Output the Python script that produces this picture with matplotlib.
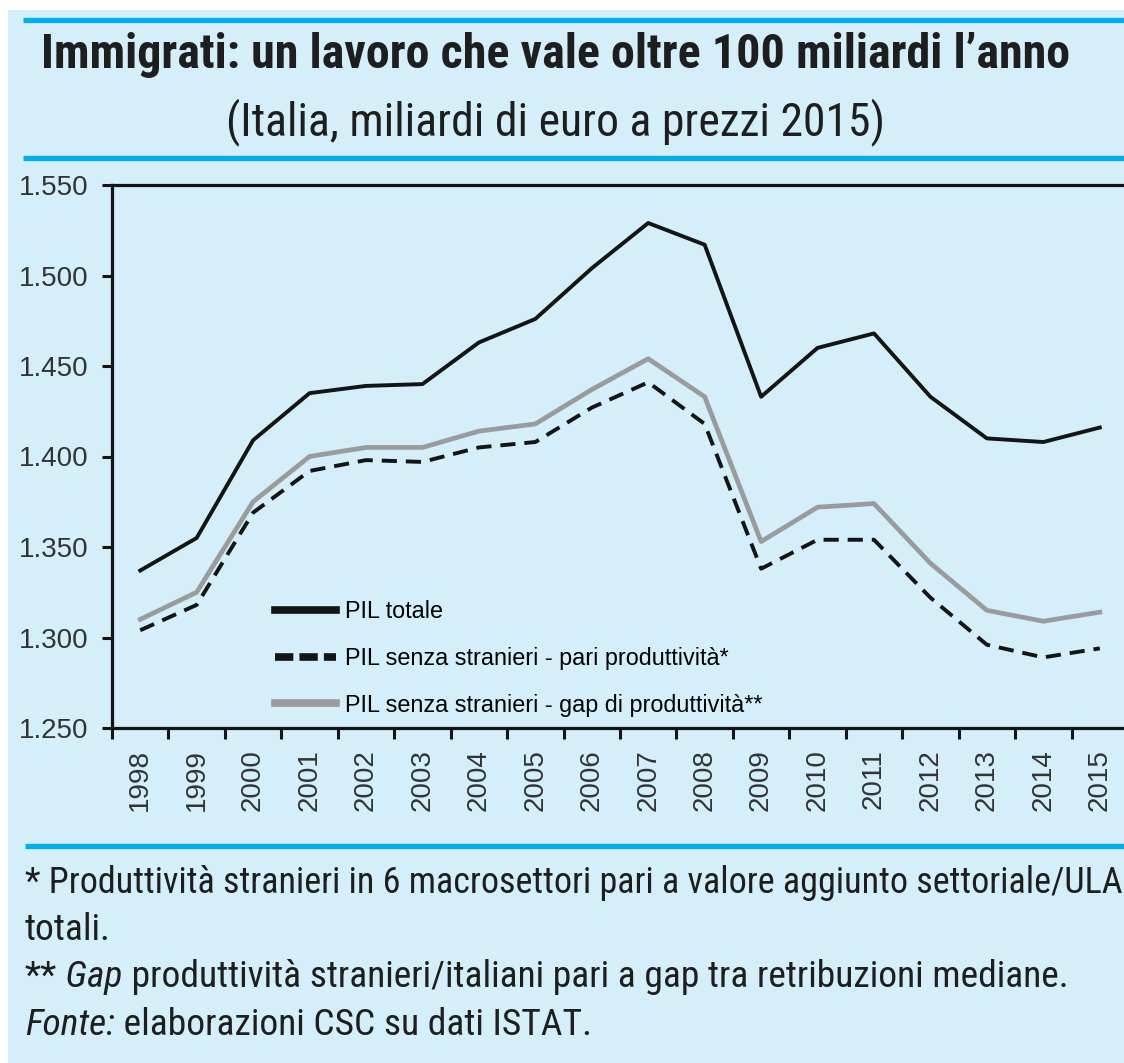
import matplotlib
matplotlib.use('Agg')
import matplotlib.pyplot as plt
from matplotlib import font_manager
from matplotlib.lines import Line2D
from matplotlib.patches import Rectangle
from matplotlib.ticker import FixedLocator, FuncFormatter, NullFormatter

# Data (miliardi di euro a prezzi 2015)
years = ['1998', '1999', '2000', '2001', '2002', '2003', '2004', '2005', '2006',
         '2007', '2008', '2009', '2010', '2011', '2012', '2013', '2014', '2015']
pil_totale = [1337, 1355, 1409, 1435, 1439, 1440, 1463, 1476, 1504,
              1529, 1517, 1433, 1460, 1468, 1433, 1410, 1408, 1416]
pil_pari_prod = [1304, 1318, 1369, 1392, 1398, 1397, 1405, 1408, 1427,
                 1441, 1418, 1338, 1354, 1354, 1322, 1296, 1289, 1294]
pil_gap_prod = [1310, 1325, 1375, 1400, 1405, 1405, 1414, 1418, 1437,
                1454, 1433, 1353, 1372, 1374, 1341, 1315, 1309, 1314]
y_ticks = [1250, 1300, 1350, 1400, 1450, 1500, 1550]
labels = ['PIL totale',
          'PIL senza stranieri - pari produttività*',
          'PIL senza stranieri - gap di produttività**']

BG = '#d4eefa'
BLUE = '#00aeef'
TXT = '#1e1e1e'
GRAY = '#9b9b9b'
SANS = 'Liberation Sans'


# pick a condensed face if one is installed
def pick_narrow():
    fonts = font_manager.fontManager.ttflist
    names = {f.name for f in fonts}
    for fam in ['Liberation Sans Narrow', 'Arial Narrow', 'Roboto Condensed',
                'Open Sans Condensed', 'Noto Sans Condensed', 'DejaVu Sans Condensed']:
        if fam in names:
            return {'family': fam}
    for f in fonts:
        if 'Mono' in f.name or 'Serif' in f.name:
            continue
        st = str(f.stretch)
        if st in ('condensed', 'semi-condensed', 'extra-condensed') or 'Condensed' in f.name or 'Narrow' in f.name:
            return {'family': f.name, 'fontstretch': st}
    return {'family': SANS}


NARROW = pick_narrow()

W, H = 1124, 1063
fig = plt.figure(figsize=(W / 100, H / 100), dpi=100)
fig.patch.set_facecolor('white')
renderer = fig.canvas.get_renderer()


def fx(px):
    return px / W


def fy(py):
    return 1 - py / H


def fit(t, width_px):
    w = t.get_window_extent(renderer).width
    t.set_fontsize(t.get_fontsize() * width_px / w)


# light blue panel
fig.add_artist(Rectangle((fx(8), 0), 1 - fx(8), fy(10), transform=fig.transFigure,
                         facecolor=BG, edgecolor='none', zorder=0))

# blue rules
for y, x0 in [(20, 23), (158, 23), (846, 25)]:
    fig.add_artist(Line2D([fx(x0), 1], [fy(y), fy(y)], transform=fig.transFigure,
                          color=BLUE, lw=3.8, solid_capstyle='butt'))

# titles
t1 = fig.text(fx(556), fy(68), 'Immigrati: un lavoro che vale oltre 100 miliardi l\u2019anno',
              ha='center', va='baseline', fontsize=40, fontweight='bold', color=TXT, **NARROW)
fit(t1, 1027)
t2 = fig.text(fx(556), fy(135), '(Italia, miliardi di euro a prezzi 2015)',
              ha='center', va='baseline', fontsize=38, color=TXT, **NARROW)
fit(t2, 657)

# chart
ax = fig.add_axes([fx(112), fy(728), (1128 - 112) / W, (728 - 185) / H])
ax.set_facecolor(BG)
x = list(range(len(years)))
ax.plot(x, pil_totale, color='#141414', lw=2.8, zorder=3)
ax.plot(x, pil_gap_prod, color=GRAY, lw=3.4, zorder=2)
ax.plot(x, pil_pari_prod, color='#141414', lw=2.8, dashes=(3.9, 2.3), zorder=3)

ax.set_xlim(-0.5, len(years) - 0.5)
ax.set_ylim(1250, 1550)
ax.set_yticks(y_ticks)
ax.yaxis.set_major_formatter(FuncFormatter(lambda v, p: f'{int(v):,}'.replace(',', '.')))
ax.tick_params(axis='y', direction='out', length=7, width=2.2, pad=10,
               labelsize=20, labelcolor='#333333', color='#141414')

ax.set_xticks(x)
ax.set_xticklabels(years, rotation=90, fontsize=20, color='#333333', va='top', ha='center')
ax.xaxis.set_minor_locator(FixedLocator([i - 0.5 for i in range(len(years) + 1)]))
ax.xaxis.set_minor_formatter(NullFormatter())
ax.tick_params(axis='x', which='major', length=0, pad=15)
ax.tick_params(axis='x', which='minor', direction='out', length=8, width=2.2, color='#141414')
for lab in ax.get_xticklabels() + ax.get_yticklabels():
    lab.set_family(SANS)

for side in ['left', 'bottom', 'top']:
    ax.spines[side].set_linewidth(2.3)
    ax.spines[side].set_color('#141414')
ax.spines['right'].set_visible(False)

handles = [Line2D([], [], color='#141414', lw=5.5),
           Line2D([], [], color='#141414', lw=5.5, dashes=(2.4, 0.8)),
           Line2D([], [], color=GRAY, lw=5.5)]
fig.legend(handles, labels, loc='upper left', bbox_to_anchor=(fx(275), fy(600)),
           bbox_transform=fig.transFigure, frameon=False, borderpad=0, borderaxespad=0,
           handlelength=2.6, handletextpad=0.42, labelspacing=1.02,
           prop={'family': SANS, 'size': 16.8})

# footnotes: size fitted so that the "**" line spans like the reference
note3 = '** Gap produttività stranieri/italiani pari a gap tra retribuzioni mediane.'
probe = fig.text(0, 0, note3, fontsize=28, **NARROW)
note_size = 28 * 1045 / probe.get_window_extent(renderer).width
probe.remove()


def rich_line(x_px, y_px, pieces, size):
    xpos = x_px
    texts = []
    for txt, style in pieces:
        t = fig.text(fx(xpos), fy(y_px), txt, fontsize=size, style=style,
                     ha='left', va='baseline', color=TXT, **NARROW)
        xpos = t.get_window_extent(renderer).x1
        texts.append(t)
    return texts, xpos


line1, end1 = rich_line(25, 893, [('* Produttività stranieri in 6 macrosettori pari a valore aggiunto settoriale/ULA', 'normal')], note_size)
if end1 > W - 4:
    # keep the whole line inside the picture
    line1[0].set_fontsize(note_size * (W - 4 - 25) / (end1 - 25))
rich_line(25, 940, [('totali.', 'normal')], note_size)
rich_line(25, 987, [('**', 'normal'), (' Gap', 'italic'),
                    (' produttività stranieri/italiani pari a gap tra retribuzioni mediane.', 'normal')], note_size)
rich_line(25, 1035, [('Fonte:', 'italic'), (' elaborazioni CSC su dati ISTAT.', 'normal')], note_size)

fig.savefig('out.png', dpi=100)
